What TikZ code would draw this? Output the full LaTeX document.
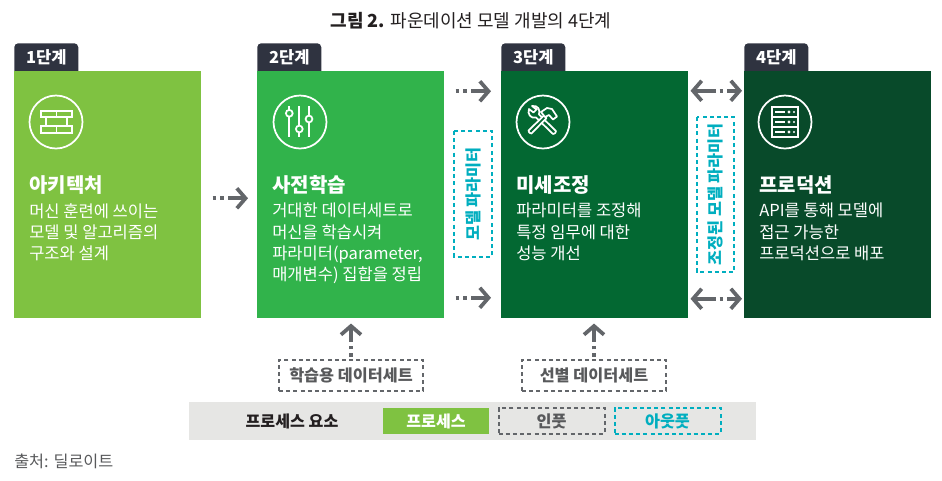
\documentclass[tikz,border=0pt]{standalone}
\usepackage{fontspec}
\setmainfont{Noto Sans CJK KR}
\usepackage{tikz}
\usetikzlibrary{positioning,arrows.meta}
\definecolor{ink}     {HTML}{231F20}
\definecolor{tabink}  {HTML}{2F3340}
\definecolor{softink} {HTML}{58595B}
\definecolor{flowgray}{HTML}{63666A}
\definecolor{lime}    {HTML}{7FC241}
\definecolor{grass}   {HTML}{31B34B}
\definecolor{forest}  {HTML}{036832}
\definecolor{pine}    {HTML}{084A2A}
\definecolor{teal}    {HTML}{00AEBF}
\definecolor{barfill} {HTML}{E6E6E4}
\tikzset{
  % --- nodes
  stagebox/.style = {minimum width=140.25pt, minimum height=185.25pt, inner sep=0pt, anchor=north west},
  stagetab/.style = {fill=tabink, rounded corners=3pt, minimum width=48pt, inner sep=0pt, anchor=north west,
                     text height=15pt, text depth=11.25pt, text=white,
                     font=\fontsize{12.4}{14}\selectfont\bfseries},
  head/.style     = {anchor=west, inner sep=0pt, text=white, font=\fontsize{15}{18}\selectfont\bfseries},
  body/.style     = {anchor=north west, inner sep=0pt, align=left, text=white,
                     font=\fontsize{12.4}{15.8}\selectfont},
  inbox/.style    = {draw=flowgray, line width=1.5pt, dash pattern=on 3pt off 2.4pt, inner sep=0pt,
                     text=softink, font=\fontsize{12.2}{14}\selectfont\bfseries},
  outbox/.style   = {inbox, draw=teal, text=teal},
  % --- edges
  flow/.style     = {draw=flowgray, line width=2.8pt, dash pattern=on 2.8pt off 3pt on 2.8pt off 3pt on 40pt,
                     -{Straight Barb[length=6.5pt,width=15pt,line width=2.8pt]}},
  twoway/.style   = {draw=flowgray, line width=2.8pt, dash pattern=on 15.5pt off 3pt on 2.8pt off 3pt on 40pt,
                     {Straight Barb[length=6.5pt,width=15pt,line width=2.8pt]}-{Straight Barb[length=6.5pt,width=15pt,line width=2.8pt]}},
  % --- icons
  icon/.style     = {draw=white, line width=1.3pt},
}
\begin{document}
\begin{tikzpicture}[x=0.75pt,y=-0.75pt]
  \useasboundingbox (0,0) rectangle (942,480);
  \node[inner sep=0pt,text=ink,font=\fontsize{13.5}{16}\selectfont] (title) at (471,21) {\textbf{그림 2.} 파운데이션 모델 개발의 4단계};

  % --- stages
  \node[stagetab] (tab1) at (14,43) {1단계};
  \node[stagetab] (tab2) at (257,43) {2단계};
  \node[stagetab] (tab3) at (501,43) {3단계};
  \node[stagetab] (tab4) at (744,43) {4단계};
  \node[stagebox,fill=lime]   (archi) at (14,71) {};
  \node[stagebox,fill=grass]  (pretrain) at (257,71) {};
  \node[stagebox,fill=forest] (tune) at (501,71) {};
  \node[stagebox,fill=pine]   (prod) at (744,71) {};

  \node[head] (archihead) at (29,185) {아키텍처};
  \node[head] (pretrainhead) at (272,185) {사전학습};
  \node[head] (tunehead) at (516,185) {미세조정};
  \node[head] (prodhead) at (759,185) {프로덕션};
  \node[body] (archibody) at (29,203) {머신 훈련에 쓰이는\\모델 및 알고리즘의\\구조와 설계};
  \node[body] (pretrainbody) at (272,203) {거대한 데이터세트로\\머신을 학습시켜\\파라미터(parameter,\\매개변수) 집합을 정립};
  \node[body] (tunebody) at (516,203) {파라미터를 조정해\\특정 임무에 대한\\성능 개선};
  \node[body] (prodbody) at (759,203) {API를 통해 모델에\\접근 가능한\\프로덕션으로 배포};

  % --- icons
  \begin{scope}[shift={(56,122)}]
    \draw[icon] (0,0) circle (26.5);
    \draw[icon] (-15,-11.3) rectangle (16,-4.7) (0.5,-11.3) -- (0.5,-4.7);
    \draw[icon] (-10,-4.7) rectangle (11,4);
    \draw[icon] (-15,4) rectangle (16,11.3) (0.5,4) -- (0.5,11.3);
  \end{scope}
  \begin{scope}[shift={(300,122)}]
    \draw[icon] (0,0) circle (26.5);
    \draw[icon] (-10.7,-16) -- (-10.7,15) (-0.7,-16) -- (-0.7,15) (9,-16) -- (9,15);
    \draw[icon,fill=grass] (-10.7,-8.7) circle (3.4) (-0.7,7) circle (3.4) (9,-3) circle (3.4);
  \end{scope}
  \begin{scope}[shift={(543,122)}]
    \draw[icon] (0,0) circle (26.5);
    \draw[icon,line join=round] (-4,-7.5) -- (13,9) to[bend left=50] (10,12) -- (-7,-4.5)
      .. controls (-12,-3) and (-16,-8) .. (-14,-13) -- (-9.5,-9.5) -- (-6.5,-12.5) -- (-11,-16)
      .. controls (-5,-17) and (-2.5,-12) .. cycle;
    \draw[icon,fill=forest,line join=round] (-14.5,8.5) -- (1,-6.5) -- (3.5,-4) -- (-11.5,11.5) to[bend left=50] cycle;
    \draw[icon,fill=forest,line join=round] (-2,-10) -- (4,-14) -- (9,-13) -- (14,-5.5) -- (10,-2.5) -- (6,-7) -- (2,-5) -- cycle;
  \end{scope}
  \begin{scope}[shift={(785,122)}]
    \draw[icon] (0,0) circle (26.5);
    \draw[icon] (-13,-15) rectangle (13,15);
    \foreach \rowy in {-5,5}{\draw[icon] (-13,\rowy) -- (13,\rowy);}
    \foreach \rowy in {-10,0,10}{
      \draw[icon] (-10,\rowy) -- (0,\rowy);
      \fill[white] (4,\rowy) circle (1.6) (9,\rowy) circle (1.1);
    }
  \end{scope}

  % --- inputs and outputs
  \node[inbox,minimum width=108pt,minimum height=23.25pt] (trainset) at (351,375.5) {학습용 데이터세트};
  \node[inbox,minimum width=108pt,minimum height=23.25pt] (selectset) at (594,375.5) {선별 데이터세트};
  \node[outbox,rotate=90,minimum width=94.5pt,minimum height=28.5pt] (params) at (473,194) {모델 파라미터};
  \node[outbox,rotate=90,minimum width=116.25pt,minimum height=27.75pt] (tuned) at (715.5,194.5) {조정된 모델 파라미터};

  % --- legend
  \node[fill=barfill,minimum width=425.25pt,minimum height=28.5pt,inner sep=0pt] (bar) at (472.5,421) {};
  \node[inner sep=0pt,text=ink,font=\fontsize{12.1}{14}\selectfont\bfseries] (legendname) at (292,421) {프로세스 요소};
  \node[fill=lime,text=white,minimum width=79.5pt,minimum height=19.5pt,inner sep=0pt,font=\fontsize{12.1}{14}\selectfont\bfseries] (legendstep) at (436,421) {프로세스};
  \node[inbox,minimum width=79.5pt,minimum height=19.5pt] (legendin) at (551.5,421) {인풋};
  \node[outbox,minimum width=79.5pt,minimum height=19.5pt] (legendout) at (667.5,421) {아웃풋};
  \node[anchor=west,inner sep=0pt,text=softink,font=\fontsize{12.2}{14}\selectfont] (source) at (14,461) {출처: 딜로이트};

  % --- connectors
  \draw[flow] ([shift={(11,3.5)}]archi.east) -- ([shift={(-9,3.5)}]pretrain.west);
  \draw[flow] ([shift={(11,-103.5)}]pretrain.east) -- ([shift={(-10,-103.5)}]tune.west);
  \draw[flow] ([shift={(11,103)}]pretrain.east) -- ([shift={(-10,103)}]tune.west);
  \draw[twoway] ([shift={(2,-104)}]tune.east) -- ([shift={(-2,-104)}]prod.west);
  \draw[twoway] ([shift={(2,104)}]tune.east) -- ([shift={(-2,104)}]prod.west);
  \draw[flow,shorten <=1.5pt,shorten >=3.75pt] (trainset) -- (trainset |- pretrain.south);
  \draw[flow,shorten <=1.5pt,shorten >=3.75pt] (selectset) -- (selectset |- tune.south);
\end{tikzpicture}
\end{document}
